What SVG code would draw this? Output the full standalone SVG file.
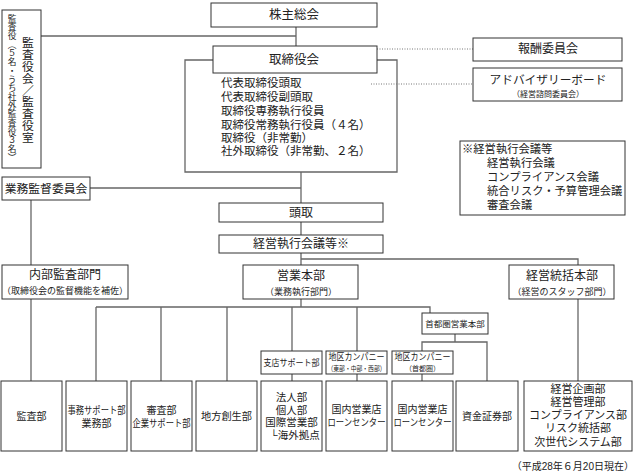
<svg xmlns="http://www.w3.org/2000/svg" width="636" height="473" viewBox="0 0 636 473">
<style>
.b{fill:#fff;stroke:#333;stroke-width:1}
.c{fill:none;stroke:#666;stroke-width:1.3}
.d{fill:none;stroke:#777;stroke-width:1;stroke-dasharray:1 1.5}
text{font-family:"Liberation Sans","Noto Sans CJK JP","Noto Sans CJK SC",sans-serif;fill:#222;dominant-baseline:central}
.m{text-anchor:middle}
.v{writing-mode:vertical-rl;font-family:"Noto Sans CJK JP",sans-serif}
</style>
<rect width="636" height="473" fill="#fff"/>
<g id="connectors">
<path class="c" d="M296,27V46"/>
<path class="c" d="M41,36H296"/>
<path class="c" d="M213,60H185V172H397V60H377"/>
<path class="c" d="M301,172V203"/>
<path class="c" d="M90,188H301"/>
<path class="c" d="M301,222V235"/>
<path class="c" d="M301,253V265"/>
<path class="c" d="M301,259H578V265"/>
<path class="c" d="M31,200V265"/>
<path class="c" d="M31,299V381"/>
<path class="c" d="M301,299V307"/>
<path class="c" d="M96,307H430V313"/>
<path class="c" d="M96,307V381M161,307V381M227,307V381M292,307V351M357,307V351"/>
<path class="c" d="M292,374V381M357,374V381M422,374V381"/>
<path class="c" d="M455,334V342M422,351V342H487V381"/>
<path class="c" d="M578,299V381"/>
<path class="d" d="M377,49H473"/>
<path class="d" d="M371,84H473"/>
</g>
<g id="kabunushi"><rect class="b" x="211" y="3" width="166" height="24"/><text class="m" x="294" y="15" font-size="12.5">株主総会</text></g>
<g id="kansayaku"><rect class="b" x="2" y="10" width="39" height="158"/>
<text class="v" x="28" y="37" font-size="11.8">監査役会／監査役室</text>
<text class="v" x="12" y="14" font-size="8.7">監査役（５名・うち社外監査役３名）</text></g>
<g id="torishimariyakukai"><rect class="b" x="213" y="46" width="164" height="27"/><text class="m" x="294" y="60" font-size="12.5">取締役会</text>
<text x="221" y="83" font-size="11.5"><tspan x="221" y="83">代表取締役頭取</tspan><tspan x="221" y="97">代表取締役副頭取</tspan><tspan x="221" y="111">取締役専務執行役員</tspan><tspan x="221" y="125">取締役常務執行役員（４名）</tspan><tspan x="221" y="138">取締役（非常勤）</tspan><tspan x="221" y="151">社外取締役（非常勤、２名）</tspan></text></g>
<g id="hoshu"><rect class="b" x="473" y="38" width="149" height="23"/><text class="m" x="548" y="49" font-size="12">報酬委員会</text></g>
<g id="advisory"><rect class="b" x="473" y="68" width="149" height="33"/><text class="m" x="548" y="79" font-size="11.7">アドバイザリーボード<tspan x="548" y="94" font-size="8">（経営諮問委員会）</tspan></text></g>
<g id="note"><rect class="b" x="460" y="141" width="165" height="74"/>
<text font-size="11.3"><tspan x="462" y="149">※経営執行会議等</tspan><tspan x="487" y="163">経営執行会議</tspan><tspan x="487" y="177">コンプライアンス会議</tspan><tspan x="487" y="191">統合リスク・予算管理会議</tspan><tspan x="487" y="205">審査会議</tspan></text></g>
<g id="gyomukantoku"><rect class="b" x="2" y="177" width="88" height="23"/><text class="m" x="46" y="188.5" font-size="11.8">業務監督委員会</text></g>
<g id="todori"><rect class="b" x="219" y="203" width="164" height="19"/><text class="m" x="301" y="212.5" font-size="12">頭取</text></g>
<g id="keieishikko"><rect class="b" x="219" y="235" width="164" height="18"/><text class="m" x="301" y="244" font-size="12">経営執行会議等※</text></g>
<g id="naibukansa"><rect class="b" x="2" y="265" width="126" height="34"/><text class="m" x="65" y="275" font-size="12">内部監査部門<tspan x="65" y="291" font-size="9">（取締役会の監督機能を補佐）</tspan></text></g>
<g id="eigyo"><rect class="b" x="243" y="265" width="115" height="34"/><text class="m" x="301" y="276" font-size="12">営業本部<tspan x="301" y="292" font-size="9">（業務執行部門）</tspan></text></g>
<g id="keieitokatsu"><rect class="b" x="509" y="265" width="105" height="34"/><text class="m" x="562" y="276" font-size="12">経営統括本部<tspan x="562" y="292" font-size="9">（経営のスタッフ部門）</tspan></text></g>
<g id="shutoken"><rect class="b" x="422" y="313" width="66" height="21"/><text class="m" x="455" y="323.5" font-size="8.5">首都圏営業本部</text></g>
<g id="shitensupport"><rect class="b" x="261" y="351" width="61" height="23"/><text class="m" x="291.5" y="362.5" font-size="9" textLength="56" lengthAdjust="spacingAndGlyphs">支店サポート部</text></g>
<g id="chiku1"><rect class="b" x="326" y="351" width="61" height="23"/><text class="m" font-size="9"><tspan x="356.5" y="357" textLength="56" lengthAdjust="spacingAndGlyphs">地区カンパニー</tspan><tspan x="356.5" y="368" font-size="7" textLength="58" lengthAdjust="spacingAndGlyphs">（東部・中部・西部）</tspan></text></g>
<g id="chiku2"><rect class="b" x="392" y="351" width="61" height="23"/><text class="m" font-size="9"><tspan x="422.5" y="357" textLength="56" lengthAdjust="spacingAndGlyphs">地区カンパニー</tspan><tspan x="422.5" y="368" font-size="7">（首都圏）</tspan></text></g>
<g id="kansabu"><rect class="b" x="1" y="381" width="61" height="70"/><text class="m" x="31.5" y="416" font-size="10">監査部</text></g>
<g id="jimu"><rect class="b" x="66" y="381" width="61" height="70"/><text class="m" font-size="10"><tspan x="96.5" y="410" textLength="58" lengthAdjust="spacingAndGlyphs">事務サポート部</tspan><tspan x="96.5" y="423">業務部</tspan></text></g>
<g id="shinsa"><rect class="b" x="131" y="381" width="61" height="70"/><text class="m" font-size="10"><tspan x="161.5" y="410">審査部</tspan><tspan x="161.5" y="423" textLength="58" lengthAdjust="spacingAndGlyphs">企業サポート部</tspan></text></g>
<g id="chihososei"><rect class="b" x="196" y="381" width="61" height="70"/><text class="m" x="226.5" y="416" font-size="10.2">地方創生部</text></g>
<g id="hojin"><rect class="b" x="261" y="381" width="61" height="70"/>
<text class="m" font-size="10.5"><tspan x="291.5" y="397">法人部</tspan><tspan x="291.5" y="409.5">個人部</tspan><tspan x="291.5" y="422">国際営業部</tspan><tspan x="295" y="435">└海外拠点</tspan></text></g>
<g id="kokunai1"><rect class="b" x="326" y="381" width="61" height="70"/><text class="m" font-size="10"><tspan x="356.5" y="409">国内営業店</tspan><tspan x="356.5" y="422" textLength="58" lengthAdjust="spacingAndGlyphs">ローンセンター</tspan></text></g>
<g id="kokunai2"><rect class="b" x="392" y="381" width="61" height="70"/><text class="m" font-size="10"><tspan x="422.5" y="409">国内営業店</tspan><tspan x="422.5" y="422" textLength="58" lengthAdjust="spacingAndGlyphs">ローンセンター</tspan></text></g>
<g id="shikin"><rect class="b" x="456" y="381" width="62" height="70"/><text class="m" x="487" y="416" font-size="10">資金証券部</text></g>
<g id="keieikikaku"><rect class="b" x="524" y="381" width="108" height="70"/>
<text class="m" font-size="11"><tspan x="578" y="389">経営企画部</tspan><tspan x="578" y="402">経営管理部</tspan><tspan x="578" y="415">コンプライアンス部</tspan><tspan x="578" y="428">リスク統括部</tspan><tspan x="578" y="442">次世代システム部</tspan></text></g>
<text x="634" y="466" font-size="10" text-anchor="end">（平成28年６月20日現在）</text>
</svg>
